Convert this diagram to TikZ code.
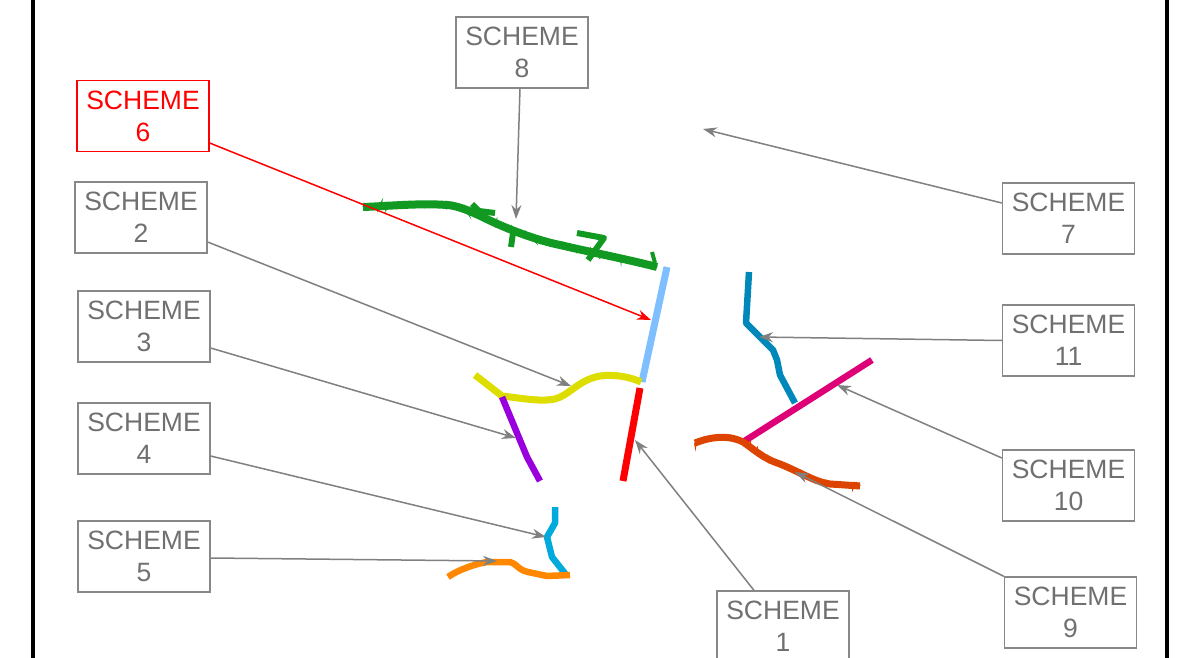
\documentclass[tikz,border=0pt]{standalone}
\usepackage{fontspec}
\setmainfont{Liberation Sans}
\usetikzlibrary{arrows.meta,decorations.pathmorphing}
\definecolor{boxgray}{HTML}{888888}
\definecolor{txtgray}{HTML}{707070}
\definecolor{arrgray}{HTML}{808080}
\definecolor{cgreen}{HTML}{119922}
\definecolor{cltblue}{HTML}{80BFFF}
\definecolor{cred}{HTML}{FF0000}
\definecolor{cyellow}{HTML}{DDDD00}
\definecolor{cpurple}{HTML}{9900DD}
\definecolor{cteal}{HTML}{0088BB}
\definecolor{cmagenta}{HTML}{DD0077}
\definecolor{corred}{HTML}{DD4400}
\definecolor{cblue}{HTML}{00AADD}
\definecolor{corange}{HTML}{FF8800}
\tikzset{
  schemebox/.style={draw=boxgray, line width=1.3pt, text=txtgray, minimum width=132pt, minimum height=71pt, align=center, inner sep=0pt, font=\fontsize{26.5}{32}\selectfont},
  redbox/.style={schemebox, draw=cred, text=cred},
  conn/.style={draw=arrgray, line width=1.5pt, -{Stealth[length=14pt,width=10pt]}},
  redconn/.style={draw=cred, line width=1.5pt, -{Stealth[length=14pt,width=10pt]}},
  stroke/.style={line width=7pt, line join=round},
  fuzzy/.style={line width=2pt, decorate, decoration={random steps, segment length=1.5pt, amplitude=2.5pt}},
}
\begin{document}
\begin{tikzpicture}[x=1pt,y=-1pt]
\useasboundingbox (0,0) rectangle (1184,658);
\fill[white] (0,0) rectangle (1184,658);
\draw[line width=4pt, black] (33,0) -- (33,658);
\draw[line width=4pt, black] (1167,0) -- (1167,658);

% coloured strokes
\draw[stroke, cgreen, line width=8pt] (363,207) .. controls (390,206) and (420,203) .. (447,205) .. controls (462,206) and (480,216) .. (493,222) .. controls (515,232) and (540,241) .. (560,245) .. controls (590,252) and (630,260) .. (657,267);
\draw[cgreen, fuzzy] (363,207) .. controls (390,206) and (420,203) .. (447,205) .. controls (462,206) and (480,216) .. (493,222) .. controls (515,232) and (540,241) .. (560,245) .. controls (590,252) and (630,260) .. (657,267);
\draw[cgreen, line width=6pt, line join=round] (472,204) -- (479,211) -- (495,213);
\draw[cgreen, line width=6pt] (513,233) -- (511,247);
\draw[cgreen, line width=6pt, line join=round] (577,233) -- (604,238) -- (588,260);
\draw[cgreen, line width=4pt] (652,252) -- (655,263);

\draw[stroke, cltblue] (667,267) -- (642,382);
\draw[stroke, cred] (640,388) -- (623,481);
\draw[stroke, cyellow] (475,375) -- (502,396) .. controls (520,398) and (540,402) .. (555,399) .. controls (570,395) and (578,380) .. (600,376) .. controls (615,374) and (630,377) .. (641,382);
\draw[stroke, cpurple, line width=6.5pt] (502,397) -- (527,457) -- (540,481);
\draw[stroke, cteal, line width=6.5pt] (749,272) -- (746,323) -- (760,337) -- (773,350) -- (777,360) -- (780,375) -- (795,403);
\draw[stroke, cmagenta, line width=6.5pt] (872,360) -- (743,442);
\draw[stroke, corred] (695,443) .. controls (705,439) and (725,433) .. (743,442) .. controls (755,450) and (762,458) .. (780,464) .. controls (800,472) and (815,482) .. (830,484) -- (860,486);
\draw[corred, fuzzy] (695,443) .. controls (705,439) and (725,433) .. (743,442) .. controls (755,450) and (762,458) .. (780,464) .. controls (800,472) and (815,482) .. (830,484) -- (860,486);
\draw[stroke, cblue, line width=6.5pt] (555,507) -- (555,523) -- (547,537) -- (552,557) -- (567,576);
\draw[stroke, corange, line width=6.5pt] (448,577) .. controls (455,572) and (470,565) .. (487,562) -- (510,562) .. controls (516,563) and (518,570) .. (528,572) -- (547,576) -- (570,575);

% boxes
\node[schemebox] (s8) at (522,52.5) {SCHEME\\8};
\node[redbox] (s6) at (143,116) {SCHEME\\6};
\node[schemebox] (s2) at (141,217.5) {SCHEME\\2};
\node[schemebox] (s3) at (144,326.5) {SCHEME\\3};
\node[schemebox] (s4) at (144,438.5) {SCHEME\\4};
\node[schemebox] (s5) at (144,556.5) {SCHEME\\5};
\node[schemebox] (s1) at (783,626.5) {SCHEME\\1};
\node[schemebox] (s7) at (1068.5,218.5) {SCHEME\\7};
\node[schemebox] (s11) at (1068.5,340.5) {SCHEME\\11};
\node[schemebox] (s10) at (1068.5,485.5) {SCHEME\\10};
\node[schemebox] (s9) at (1070.5,612.5) {SCHEME\\9};

% target points
\coordinate (t8) at (516,219);
\coordinate (t6) at (651,320);
\coordinate (t7) at (703,129);
\coordinate (t2) at (571,386);
\coordinate (t3) at (516,438);
\coordinate (t4) at (546,537);
\coordinate (t5) at (497,561);
\coordinate (t1) at (635,440);
\coordinate (t11) at (759,337);
\coordinate (t10) at (837,385);
\coordinate (t9) at (795,472);

% connectors
\draw[conn] ([xshift=-2pt]s8.south) -- (t8);
\draw[redconn] ([yshift=-27pt]s6.east) -- (t6);
\draw[conn] ([yshift=15.5pt]s7.west) -- (t7);
\draw[conn] ([yshift=-24.5pt]s2.east) -- (t2);
\draw[conn] ([yshift=-21.5pt]s3.east) -- (t3);
\draw[conn] ([yshift=-17.5pt]s4.east) -- (t4);
\draw[conn] ([yshift=-1.5pt]s5.east) -- (t5);
\draw[conn] ([xshift=-29pt]s1.north) -- (t1);
\draw[conn] (s11.west) -- (t11);
\draw[conn] ([yshift=27.5pt]s10.west) -- (t10);
\draw[conn] (s9.north west) -- (t9);
\end{tikzpicture}
\end{document}
